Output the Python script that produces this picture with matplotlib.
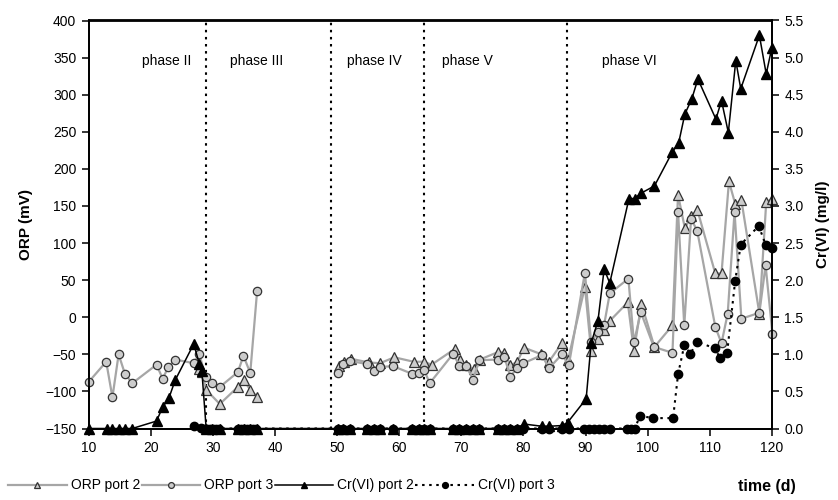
import numpy as np
import matplotlib
matplotlib.use('Agg')
import matplotlib.pyplot as plt
from matplotlib.lines import Line2D
from matplotlib.ticker import FormatStrFormatter

plt.rcParams['font.family'] = ['Liberation Sans', 'DejaVu Sans']

# ORP port 2 (mV); nan breaks the line where no samples were taken
orp2_day = [27.7, 28.2, 28.9, 31.1, 34.0, 35.0, 36.0, 37.1, 43.0,
            50.3, 51.1, 52.2, 55.1, 56.9, 59.2, 62.3, 64.0, 65.2, 68.9, 69.8, 70.8, 72.0, 73.0,
            75.9, 76.9, 77.9, 79.0, 80.1, 82.9, 84.1, 86.2, 87.2,
            89.9, 90.9, 92.0, 93.0, 93.9, 96.8, 97.8, 99.0, 101.1, 104.0, 104.9, 106.0, 107.0,
            108.0, 110.9, 111.9, 113.1, 114.1, 115.1, 118.0, 119.1, 120.1]
orp2_mv = [-70, -74, -98, -117, -94, -85, -98, -107, np.nan,
           -66, -60, -56, -61, -62, -54, -60, -60, -64, -43, -58, -65, -70, -57,
           -47, -48, -65, -60, -41, -50, -60, -35, -57,
           41, -45, -29, -17, -5, 20, -45, 18, -40, -11, 165, 120, 136,
           145, 59, 59, 183, 153, 158, 5, 155, 160]

# ORP port 3 (mV)
orp3_day = [10.0, 12.8, 13.8, 14.8, 15.8, 17.0, 20.9, 21.9, 22.8, 23.9, 26.9, 27.8, 28.8,
            29.9, 31.1, 34.0, 34.9, 36.0, 37.1, 43.0,
            50.1, 51.0, 52.0, 54.8, 55.9, 56.9, 59.0, 62.0, 63.1, 64.0, 64.9, 68.7, 69.7, 70.8,
            71.9, 72.9, 75.9, 76.9, 77.9, 78.9, 80.0, 83.0, 84.1, 86.2, 87.3,
            89.9, 90.9, 92.0, 93.0, 93.9, 96.9, 97.8, 98.9, 101.0, 104.0, 104.9, 105.9, 107.0,
            108.0, 110.9, 111.9, 112.9, 114.0, 115.1, 118.0, 119.0, 120.1]
orp3_mv = [-87, -60, -108, -50, -76, -89, -64, -83, -67, -57, -62, -50, -80,
           -88, -94, -74, -52, -75, 35, np.nan,
           -75, -63, -59, -63, -72, -67, -66, -76, -75, -71, -89, -49, -66, -66,
           -84, -58, -57, -53, -80, -69, -62, -51, -69, -50, -65,
           60, -34, -20, -10, 32, 52, -34, 7, -40, -48, 142, -11, 133,
           116, -13, -35, 5, 142, -2, 6, 70, -22]

# Cr(VI) port 2 (mg/l)
cr2_day = [10.0, 12.9, 13.8, 14.8, 15.8, 17.0, 20.9, 21.9, 22.9, 23.9, 26.9, 27.8, 28.2, 28.9,
           29.9, 31.1, 34.0, 35.0, 36.0, 37.1,
           50.1, 51.0, 52.0, 54.8, 55.9, 56.9, 59.0, 62.0, 63.1, 64.0, 64.9, 68.7, 69.7, 70.8,
           71.9, 72.9, 75.9, 76.9, 77.9, 78.9, 80.1, 83.0, 84.1, 86.2, 87.1,
           90.1, 90.9, 92.0, 93.0, 93.9, 97.0, 97.9, 98.9, 101.1, 104.0, 105.0, 106.0, 107.1,
           108.1, 111.0, 111.9, 113.0, 114.2, 115.0, 118.0, 119.1, 120.0]
cr2_mg = [0, 0, 0, 0, 0, 0, 0.10, 0.29, 0.41, 0.65, 1.14, 0.87, 0.78, 0,
          0, 0, 0, 0, 0, 0,
          0, 0, 0, 0, 0, 0, 0, 0, 0, 0, 0, 0, 0, 0,
          0, 0, 0, 0, 0, 0, 0.06, 0.03, 0.03, 0.04, 0.08,
          0.40, 1.15, 1.45, 2.15, 1.96, 3.10, 3.10, 3.17, 3.27, 3.73, 3.85, 4.24, 4.44,
          4.71, 4.17, 4.42, 3.99, 4.96, 4.58, 5.30, 4.78, 5.13]

# Cr(VI) port 3 (mg/l)
cr3_day = [27.0, 28.0, 28.5, 29.0, 29.5, 30.0, 30.5, 31.0, 34.0, 34.5, 35.0, 35.5, 36.0, 36.5, 37.0,
           50.1, 51.0, 52.0, 54.8, 55.9, 56.9, 59.0, 62.0, 63.1, 64.0, 64.9, 68.7, 69.7, 70.8,
           71.9, 72.9, 75.9, 76.9, 77.9, 78.9, 80.0, 83.0, 84.1, 86.2, 87.3,
           89.8, 90.6, 91.4, 92.2, 93.0, 93.9, 96.6, 97.4, 97.9, 98.8, 100.9, 104.1, 104.9,
           105.9, 106.9, 108.0, 110.8, 111.7, 112.8, 114.1, 115.0, 117.9, 119.0, 120.0]
cr3_mg = [0.03, 0.01, 0, 0, 0, 0, 0, 0, 0, 0, 0, 0, 0, 0, 0,
          0, 0, 0, 0, 0, 0, 0, 0, 0, 0, 0, 0, 0, 0,
          0, 0, 0, 0, 0, 0, 0, 0, 0, 0, 0,
          0, 0, 0, 0, 0, 0, 0, 0, 0, 0.17, 0.14, 0.14, 0.73,
          1.12, 1.01, 1.17, 1.08, 0.95, 1.02, 1.99, 2.48, 2.73, 2.48, 2.43]

phase_bounds = [28.8, 49.0, 64.0, 87.0]
phase_names = ['phase II', 'phase III', 'phase IV', 'phase V', 'phase VI']
phase_label_day = [22.5, 37.0, 56.0, 71.0, 97.0]

fig = plt.figure(figsize=(8.38, 5.0), dpi=100)
ax = fig.add_axes([0.106, 0.143, 0.815, 0.816])
ax2 = ax.twinx()

grey_line = '#a6a6a6'
grey_fill = '#cccccc'
edge = '#333333'

orp2_style = dict(color=grey_line, lw=1.6, marker='^', ms=6.5, mfc=grey_fill, mec=edge, mew=0.9)
orp3_style = dict(color=grey_line, lw=1.6, marker='o', ms=6, mfc=grey_fill, mec=edge, mew=0.9)
cr2_style = dict(color='black', lw=1.1, marker='^', ms=6.5, mfc='black', mec='black')
cr3_style = dict(color='black', lw=1.5, ls=(0, (1.2, 2.2)), marker='o', ms=6, mfc='black', mec='black')

ax.plot(orp2_day, orp2_mv, clip_on=False, zorder=3, **orp2_style)
ax.plot(orp3_day, orp3_mv, clip_on=False, zorder=3, **orp3_style)
ax2.plot(cr3_day, cr3_mg, clip_on=False, zorder=3, **cr3_style)
ax2.plot(cr2_day, cr2_mg, clip_on=False, zorder=4, **cr2_style)

for d in phase_bounds:
    ax.axvline(d, color='black', lw=1.5, ls=(0, (1.2, 2.2)), zorder=1)
for name, d in zip(phase_names, phase_label_day):
    ax.text(d, 345, name, ha='center', va='center', fontsize=10)

ax.set_xlim(10, 120)
ax.set_ylim(-150, 400)
ax2.set_ylim(0, 5.5)
ax.set_xticks(np.arange(10, 121, 10))
ax.set_yticks(np.arange(-150, 401, 50))
ax2.set_yticks(np.arange(0, 5.51, 0.5))
ax2.yaxis.set_major_formatter(FormatStrFormatter('%.1f'))

for a in (ax, ax2):
    a.tick_params(direction='out', length=5, width=1.1, labelsize=10, pad=4)
    for s in a.spines.values():
        s.set_linewidth(1.3)

ax.set_ylabel('ORP (mV)', fontsize=11, fontweight='bold', labelpad=9)
ax2.set_ylabel('Cr(VI) (mg/l)', fontsize=11, fontweight='bold', labelpad=9)

handles = [
    Line2D([], [], **orp2_style),
    Line2D([], [], **orp3_style),
    Line2D([], [], **cr2_style),
    Line2D([], [], **cr3_style),
]
labels = ['ORP port 2', 'ORP port 3', 'Cr(VI) port 2', 'Cr(VI) port 3']
fig.legend(handles, labels, loc='lower left', bbox_to_anchor=(-0.005, -0.01), ncol=4,
           frameon=False, fontsize=10, handlelength=4.2, handletextpad=0.3,
           columnspacing=0.1, markerscale=0.7)

fig.text(0.915, 0.028, 'time (d)', ha='center', va='center', fontsize=11.5, fontweight='bold')

fig.savefig('out.png', dpi=100)
